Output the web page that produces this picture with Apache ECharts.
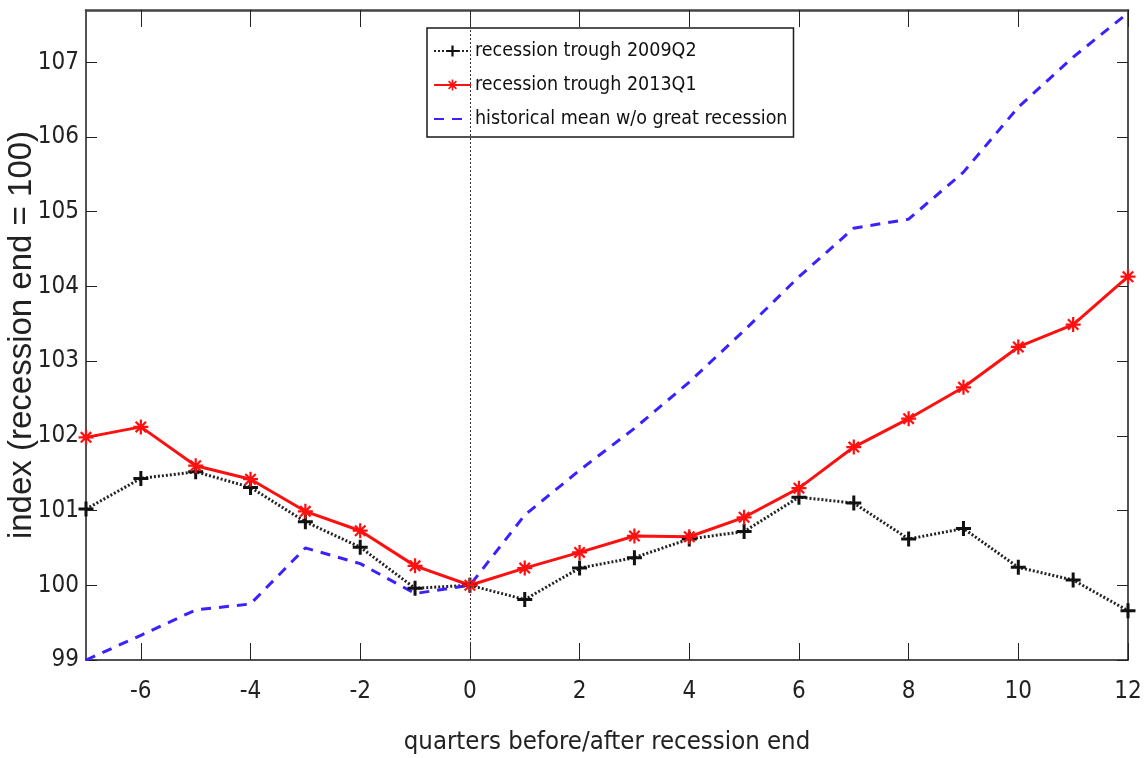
<!DOCTYPE html>
<html>
<head>
<meta charset="utf-8">
<script src="https://cdn.jsdelivr.net/npm/echarts@6/dist/echarts.min.js"></script>
<style>
  html, body { margin: 0; padding: 0; background: #fff; }
  #chart { width: 1148px; height: 758px; }
</style>
</head>
<body>
<div id="chart"></div>
<script>
// quarters before/after recession end
var quarters = [-7, -6, -5, -4, -3, -2, -1, 0, 1, 2, 3, 4, 5, 6, 7, 8, 9, 10, 11, 12];
// recession trough 2009Q2
var trough2009 = [101.02, 101.43, 101.52, 101.31, 100.85, 100.51, 99.96, 100.0, 99.81, 100.23,
                  100.37, 100.62, 100.72, 101.18, 101.10, 100.62, 100.76, 100.24, 100.07, 99.66];
// recession trough 2013Q1
var trough2013 = [101.98, 102.12, 101.60, 101.42, 100.99, 100.73, 100.26, 100.0, 100.23, 100.44,
                  100.66, 100.65, 100.91, 101.30, 101.85, 102.23, 102.65, 103.19, 103.49, 104.13];
// historical mean w/o great recession
var histMean = [99.0, 99.33, 99.67, 99.75, 100.50, 100.29, 99.89, 100.0, 100.94, 101.54,
                102.10, 102.72, 103.41, 104.13, 104.78, 104.90, 105.53, 106.40, 107.07, 107.66];

var xTicks = [-6, -4, -2, 0, 2, 4, 6, 8, 10, 12];
var yTicks = [99, 100, 101, 102, 103, 104, 105, 106, 107];

function pairs(ys) {
  return quarters.map(function (q, i) { return [q, ys[i]]; });
}

var narrow = "'DejaVu Sans Condensed', 'Liberation Sans', sans-serif";
var plusPath = 'path://M4,0L6,0L6,4L10,4L10,6L6,6L6,10L4,10L4,6L0,6L0,4L4,4Z';
var starPath = 'path://M8.5,0L11.5,0L11.5,20L8.5,20Z M0,8.5L20,8.5L20,11.5L0,11.5Z M2,4.1L4.1,2L18,15.9L15.9,18Z M15.9,2L18,4.1L4.1,18L2,15.9Z';

var myChart = echarts.init(document.getElementById('chart'));

var axisLineStyle = { color: '#1a1a1a', width: 1.5 };

var option = {
  animation: false,
  backgroundColor: '#fff',
  grid: { left: 86, right: 20, top: 10, bottom: 98, outerBoundsMode: 'none', containLabel: false },
  legend: {
    orient: 'vertical',
    left: 427,
    top: 28,
    padding: [13, 6, 8, 6],
    itemGap: 14,
    itemWidth: 37,
    itemHeight: 14,
    backgroundColor: '#fff',
    borderColor: '#1a1a1a',
    borderWidth: 1.5,
    borderRadius: 0,
    textStyle: { fontFamily: narrow, fontSize: 19.5, color: '#111', padding: [0, 0, 0, -1] },
    data: [
      { name: 'recession trough 2009Q2' },
      { name: 'recession trough 2013Q1' },
      { name: 'historical mean w/o great recession', itemStyle: { opacity: 0 } }
    ]
  },
  xAxis: [
    {
      type: 'value',
      min: -7,
      max: 12,
      position: 'bottom',
      name: 'quarters before/after recession end',
      nameLocation: 'middle',
      nameGap: 69,
      nameMoveOverlap: false,
      nameTextStyle: { fontFamily: narrow, fontSize: 25.5, color: '#222' },
      axisLine: { onZero: false, lineStyle: axisLineStyle },
      axisTick: { inside: true, length: 17, customValues: xTicks, lineStyle: { color: '#222', width: 1 } },
      axisLabel: { customValues: xTicks, margin: 20, fontFamily: narrow, fontSize: 24, color: '#222' },
      splitLine: { show: false }
    },
    {
      type: 'value',
      min: -7,
      max: 12,
      position: 'top',
      axisLine: { onZero: false, lineStyle: { color: '#444', width: 2.5 } },
      axisTick: { inside: true, length: 17, customValues: xTicks, lineStyle: { color: '#222', width: 1 } },
      axisLabel: { show: false },
      splitLine: { show: false }
    }
  ],
  yAxis: [
    {
      type: 'value',
      min: 99,
      max: 107.7,
      position: 'left',
      name: 'index (recession end = 100)',
      nameLocation: 'middle',
      nameGap: 48,
      nameMoveOverlap: false,
      nameTextStyle: { fontFamily: "'Liberation Sans', Arial, sans-serif", fontSize: 33, color: '#222' },
      axisLine: { onZero: false, lineStyle: axisLineStyle },
      axisTick: { inside: true, length: 11, customValues: yTicks, lineStyle: { color: '#222', width: 1 } },
      axisLabel: { customValues: yTicks, margin: 7, fontFamily: narrow, fontSize: 24, color: '#222' },
      splitLine: { show: false }
    },
    {
      type: 'value',
      min: 99,
      max: 107.7,
      position: 'right',
      axisLine: { onZero: false, lineStyle: axisLineStyle },
      axisTick: { inside: true, length: 11, customValues: yTicks, lineStyle: { color: '#222', width: 1 } },
      axisLabel: { show: false },
      splitLine: { show: false }
    }
  ],
  series: [
    {
      name: 'recession trough 2009Q2',
      type: 'line',
      xAxisIndex: 0,
      yAxisIndex: 0,
      data: pairs(trough2009),
      symbol: plusPath,
      symbolSize: 15,
      itemStyle: { color: '#111' },
      lineStyle: { color: '#222', width: 3, type: [2, 2] },
      markLine: {
        silent: true,
        symbol: 'none',
        label: { show: false },
        lineStyle: { color: '#333', width: 1, type: [2, 2] },
        data: [{ xAxis: 0 }]
      }
    },
    {
      name: 'recession trough 2013Q1',
      type: 'line',
      xAxisIndex: 0,
      yAxisIndex: 0,
      data: pairs(trough2013),
      symbol: starPath,
      symbolSize: 15,
      itemStyle: { color: '#ff1010' },
      lineStyle: { color: '#ff1010', width: 3 }
    },
    {
      name: 'historical mean w/o great recession',
      type: 'line',
      xAxisIndex: 0,
      yAxisIndex: 0,
      data: pairs(histMean),
      symbol: 'none',
      itemStyle: { color: '#3a22ff' },
      lineStyle: { color: '#3a22ff', width: 3, type: [10, 8] }
    }
  ]
};

myChart.setOption(option);
</script>
</body>
</html>
